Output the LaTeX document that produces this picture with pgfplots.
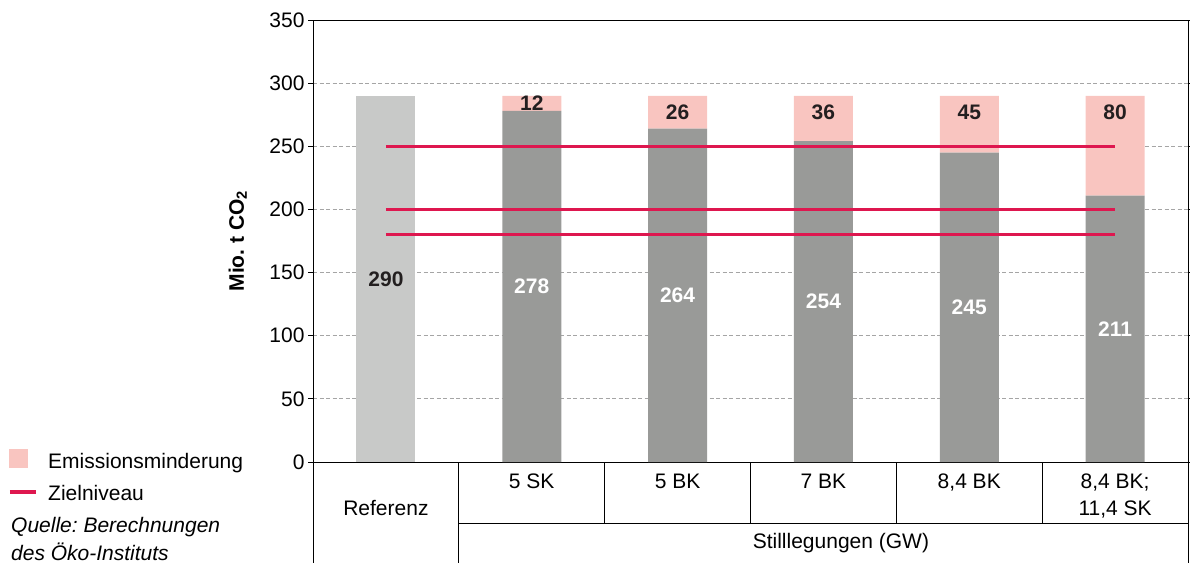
\documentclass[border=0pt]{standalone}
\usepackage{fontspec}
\setmainfont{Liberation Sans}
\usepackage{pgfplots}
\pgfplotsset{compat=1.18}
\definecolor{refgray}{RGB}{200,201,200}
\definecolor{dgray}{RGB}{153,154,152}
\definecolor{pinkc}{RGB}{249,197,192}
\definecolor{zred}{RGB}{222,23,79}
\definecolor{lblc}{RGB}{35,31,32}
\definecolor{gridc}{RGB}{165,165,165}
\newcommand{\fs}{\fontsize{21}{25}\selectfont}
\frenchspacing
\begin{document}
\frenchspacing
\begin{tikzpicture}[font=\fs]
\begin{axis}[
  set layers=standard,
  at={(0pt,0pt)}, anchor=south west,
  scale only axis, width=875pt, height=442pt,
  xmin=-0.5, xmax=5.5, ymin=0, ymax=350,
  ybar stacked, bar width=59pt,
  ytick={0,50,...,350},
  xtick=\empty,
  tick align=outside, major tick length=5pt,
  ytick style={black, line width=0.8pt},
  yticklabel style={font=\fs, text=black},
  /pgf/number format/assume math mode=true,
  ymajorgrids,
  grid style={gridc, dash pattern=on 4pt off 2.5pt, line width=0.8pt},
  axis line style={black, line width=1pt},
  ylabel={\bfseries Mio.\ t CO\textsubscript{2}},
  ylabel style={at={(axis description cs:-0.086,0.5)}, anchor=center, font=\fs},
  clip=false,
]
% Referenz bar
\addplot[fill=refgray, draw=none] coordinates {(0,290) (1,0) (2,0) (3,0) (4,0) (5,0)};
% remaining emissions
\addplot[fill=dgray, draw=none] coordinates {(0,0) (1,278) (2,264) (3,254) (4,245) (5,211)};
% Emissionsminderung
\addplot[fill=pinkc, draw=none] coordinates {(0,0) (1,12) (2,26) (3,36) (4,45) (5,79)};
% Zielniveau
\addplot[sharp plot, stack plots=false, zred, line width=2.75pt, on layer=axis foreground] coordinates {(0,250) (5,250)};
\addplot[sharp plot, stack plots=false, zred, line width=2.75pt, on layer=axis foreground] coordinates {(0,200) (5,200)};
\addplot[sharp plot, stack plots=false, zred, line width=2.75pt, on layer=axis foreground] coordinates {(0,180) (5,180)};
% label anchors
\coordinate (m0) at (axis cs:0,145);
\coordinate (m1) at (axis cs:1,139);
\coordinate (m2) at (axis cs:2,132);
\coordinate (m3) at (axis cs:3,127);
\coordinate (m4) at (axis cs:4,122.5);
\coordinate (m5) at (axis cs:5,105.5);
\coordinate (t1) at (axis cs:1,278.5);
\coordinate (t2) at (axis cs:2,271);
\coordinate (t3) at (axis cs:3,271);
\coordinate (t4) at (axis cs:4,271);
\coordinate (t5) at (axis cs:5,271);
% category labels
\node[anchor=base, inner sep=0pt, yshift=-53pt] at (axis cs:0,0) {Referenz};
\node[anchor=base, inner sep=0pt, yshift=-26pt] at (axis cs:1,0) {5 SK};
\node[anchor=base, inner sep=0pt, yshift=-26pt] at (axis cs:2,0) {5 BK};
\node[anchor=base, inner sep=0pt, yshift=-26pt] at (axis cs:3,0) {7 BK};
\node[anchor=base, inner sep=0pt, yshift=-26pt] at (axis cs:4,0) {8,4 BK};
\node[anchor=base, inner sep=0pt, yshift=-26pt] at (axis cs:5,0) {8,4 BK;};
\node[anchor=base, inner sep=0pt, yshift=-53pt] at (axis cs:5,0) {11,4 SK};
\node[anchor=base, inner sep=0pt, yshift=-86pt] at (axis cs:3.12,0) {Stilllegungen (GW)};
\end{axis}
% value labels
\node[font=\fs\bfseries, text=lblc] at (m0) {290};
\node[font=\fs\bfseries, text=white] at (m1) {278};
\node[font=\fs\bfseries, text=white] at (m2) {264};
\node[font=\fs\bfseries, text=white] at (m3) {254};
\node[font=\fs\bfseries, text=white] at (m4) {245};
\node[font=\fs\bfseries, text=white] at (m5) {211};
\node[font=\fs\bfseries, text=lblc, anchor=base, inner sep=0pt] at (t1) {12};
\node[font=\fs\bfseries, text=lblc, anchor=base, inner sep=0pt] at (t2) {26};
\node[font=\fs\bfseries, text=lblc, anchor=base, inner sep=0pt] at (t3) {36};
\node[font=\fs\bfseries, text=lblc, anchor=base, inner sep=0pt] at (t4) {45};
\node[font=\fs\bfseries, text=lblc, anchor=base, inner sep=0pt] at (t5) {80};
% category table lines
\draw[black, line width=1pt] (0pt,0pt) -- (0pt,-101pt);
\draw[black, line width=1pt] (875pt,0pt) -- (875pt,-101pt);
\draw[black, line width=1pt] (145.83pt,0pt) -- (145.83pt,-101pt);
\foreach \xx in {291.67,437.5,583.33,729.17} {\draw[black, line width=1pt] (\xx pt,0pt) -- (\xx pt,-61pt);}
\draw[black, line width=1pt] (145.83pt,-61pt) -- (875pt,-61pt);
% legend
\fill[pinkc] (-304pt,-6pt) rectangle (-285pt,13pt);
\node[anchor=base west, inner sep=0pt] at (-265pt,-6pt) {Emissionsminderung};
\draw[zred, line width=4pt] (-303pt,-30pt) -- (-277pt,-30pt);
\node[anchor=base west, inner sep=0pt] at (-265pt,-38pt) {Zielniveau};
\node[anchor=base west, inner sep=0pt, font=\fs\itshape] at (-302pt,-70pt) {Quelle: Berechnungen};
\node[anchor=base west, inner sep=0pt, font=\fs\itshape] at (-302pt,-98pt) {des Öko-Instituts};
\pgfresetboundingbox
\path (-313pt,-101pt) rectangle (877pt,462pt);
\end{tikzpicture}
\end{document}
